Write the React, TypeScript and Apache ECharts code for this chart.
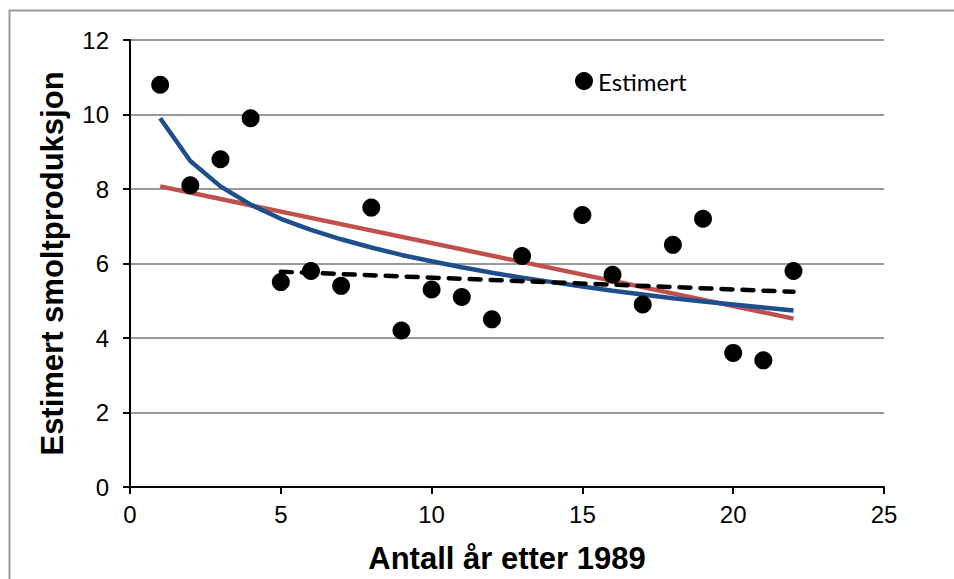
import React, { useEffect, useRef } from "react";
import * as echarts from "echarts";

// Years after 1989 and estimated smolt production
const years = [1, 2, 3, 4, 5, 6, 7, 8, 9, 10, 11, 12, 13, 15, 16, 17, 18, 19, 20, 21, 22];
const estimated = [10.8, 8.1, 8.8, 9.9, 5.5, 5.8, 5.4, 7.5, 4.2, 5.3, 5.1, 4.5, 6.2, 7.3, 5.7, 4.9, 6.5, 7.2, 3.6, 3.4, 5.8];

// Logarithmic trend (blue), values at each year 1..22
const logYears = [1, 2, 3, 4, 5, 6, 7, 8, 9, 10, 11, 12, 13, 14, 15, 16, 17, 18, 19, 20, 21, 22];
const logTrend = [9.9, 8.75, 8.07, 7.58, 7.2, 6.9, 6.65, 6.43, 6.23, 6.06, 5.9, 5.75, 5.62, 5.5, 5.38, 5.27, 5.17, 5.07, 4.98, 4.9, 4.82, 4.74];

// Linear trend over all years (red)
const linYears = [1, 22];
const linTrend = [8.07, 4.52];

// Linear trend from year 5 onwards (black dashed)
const lateYears = [5, 22];
const lateTrend = [5.78, 5.24];

const xTicks = { min: 0, max: 25, interval: 5 };
const yTicks = { min: 0, max: 12, interval: 2 };

const pairs = (xs: number[], ys: number[]) => xs.map((x, i) => [x, ys[i]]);

const titleFont = { fontFamily: "Liberation Sans", fontSize: 31, fontWeight: "bold", color: "#000" };
const tickFont = { fontFamily: "Liberation Sans", fontSize: 24, color: "#000" };

export default function App() {
  const ref = useRef<HTMLDivElement>(null);

  useEffect(() => {
    if (!ref.current) return;
    const chart = echarts.init(ref.current, null, { renderer: "svg" });
    chart.setOption({
      animation: false,
      backgroundColor: "#ffffff",
      graphic: [
        {
          type: "rect",
          shape: { x: 9.5, y: 10.5, width: 1000, height: 1000 },
          style: { fill: "none", stroke: "#9a9a9a", lineWidth: 2 },
          silent: true,
        },
      ],
      grid: { left: 130, right: 70, top: 40, bottom: 92, containLabel: false },
      legend: {
        data: ["Estimert"],
        left: 575,
        top: 69,
        padding: 0,
        itemWidth: 18,
        itemHeight: 18,
        icon: "circle",
        textStyle: { fontFamily: "Lato", fontSize: 24, color: "#000" },
      },
      xAxis: {
        type: "value",
        min: xTicks.min,
        max: xTicks.max,
        interval: xTicks.interval,
        name: "Antall år etter 1989",
        nameLocation: "middle",
        nameGap: 56,
        nameTextStyle: titleFont,
        axisLine: { show: true, lineStyle: { color: "#000", width: 2 } },
        axisTick: { show: true, length: 7, inside: false, lineStyle: { color: "#000", width: 2 } },
        axisLabel: { ...tickFont, margin: 15 },
        splitLine: { show: false },
      },
      yAxis: {
        type: "value",
        min: yTicks.min,
        max: yTicks.max,
        interval: yTicks.interval,
        name: "Estimert smoltproduksjon",
        nameLocation: "middle",
        nameGap: 62,
        nameTextStyle: titleFont,
        axisLine: { show: true, lineStyle: { color: "#000", width: 2 } },
        axisTick: { show: true, length: 7, inside: false, lineStyle: { color: "#000", width: 2 } },
        axisLabel: { ...tickFont, margin: 21 },
        splitLine: { show: true, lineStyle: { color: "#999999", width: 2 } },
      },
      series: [
        {
          name: "Estimert",
          type: "scatter",
          data: pairs(years, estimated),
          symbol: "circle",
          symbolSize: 18,
          itemStyle: { color: "#000000", opacity: 1 },
          z: 5,
        },
        {
          name: "Log trend",
          type: "line",
          data: pairs(logYears, logTrend),
          showSymbol: false,
          lineStyle: { color: "#1F4E8C", width: 4.5 },
          z: 3,
        },
        {
          name: "Linear trend",
          type: "line",
          data: pairs(linYears, linTrend),
          showSymbol: false,
          lineStyle: { color: "#C0504D", width: 4.5 },
          z: 2,
        },
        {
          name: "Trend from year 5",
          type: "line",
          data: pairs(lateYears, lateTrend),
          showSymbol: false,
          lineStyle: { color: "#000000", width: 4.5, type: [11, 10], cap: "round" },
          z: 4,
        },
      ],
    });
    return () => chart.dispose();
  }, []);

  return (
    <div
      ref={ref}
      style={{ position: "fixed", left: 0, top: 0, width: 954, height: 579 }}
    />
  );
}
